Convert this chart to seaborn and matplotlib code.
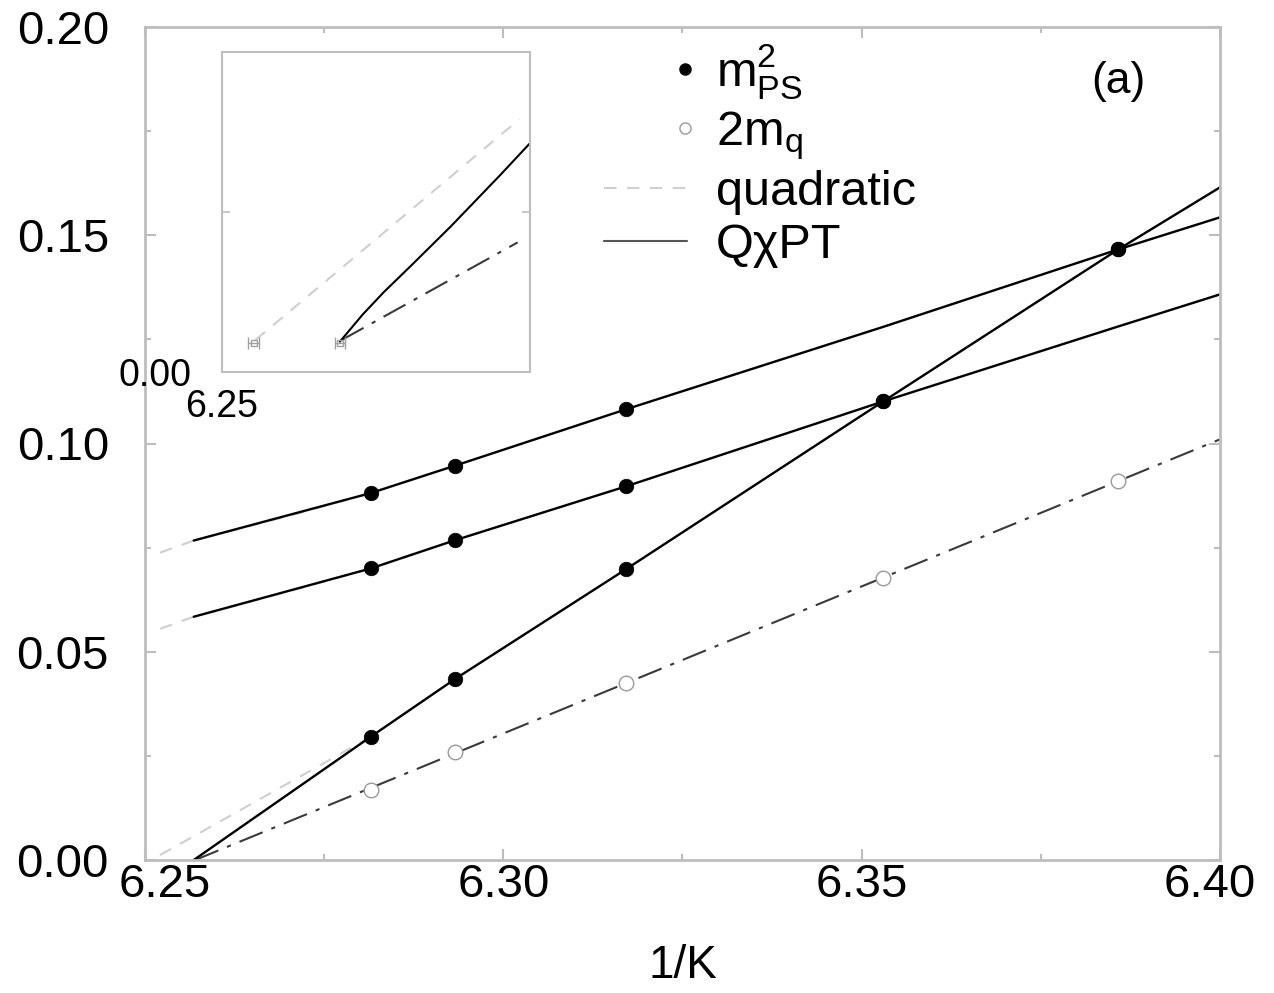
import numpy as np
import pandas as pd
import matplotlib
matplotlib.use("Agg")
import matplotlib.pyplot as plt
import matplotlib.transforms as mtransforms
import seaborn as sns
from matplotlib.legend_handler import HandlerLine2D
from matplotlib.lines import Line2D
from matplotlib.ticker import MultipleLocator

# ---------------- data ----------------
inv_k = [6.2815, 6.2933, 6.3171, 6.3530, 6.3858]

m2_deg = [0.0296, 0.0435, 0.0698, 0.1101, 0.1466]          # degenerate
m2_k5_x = [6.2815, 6.2933, 6.3171, 6.3858]
m2_k5 = [0.0881, 0.0947, 0.1082, 0.1466]                     # one quark at kappa5
m2_k4_x = [6.2815, 6.2933, 6.3171, 6.3530]
m2_k4 = [0.0700, 0.0768, 0.0897, 0.1101]                     # one quark at kappa4
two_mq = [0.0168, 0.0260, 0.0425, 0.0678, 0.0909]

# fit curves (QchiPT, solid)
fit_x = [6.2568, 6.2815, 6.2933, 6.3171, 6.3530, 6.3858, 6.4000]
fit_deg = [0.0000, 0.0296, 0.0435, 0.0698, 0.1101, 0.1466, 0.1615]
fit_k5 = [0.0767, 0.0881, 0.0947, 0.1082, 0.1280, 0.1466, 0.1543]
fit_k4 = [0.0584, 0.0700, 0.0768, 0.0897, 0.1101, 0.1281, 0.1358]

# quadratic fits (dashed light grey)
quad_x = [6.2521, 6.2568, 6.2716, 6.2815, 6.2933, 6.3171, 6.3530, 6.3858, 6.4000]
quad_deg = [0.0012, 0.0057, 0.0200, 0.0296, 0.0435, 0.0698, 0.1101, 0.1466, 0.1615]
quad_k5 = [0.0738, 0.0767, 0.0833, 0.0881, 0.0947, 0.1082, 0.1280, 0.1466, 0.1543]
quad_k4 = [0.0555, 0.0584, 0.0652, 0.0700, 0.0768, 0.0897, 0.1101, 0.1281, 0.1358]

# 2 m_q linear fit (dash-dot)
mq_fit_x = [6.2570, 6.4000]
mq_fit = [0.0000, 0.1010]

# inset
ins_quad_x = [6.2519, 6.2669]
ins_quad_y = [0.0020, 0.0158]
ins_q_x = [6.2567, 6.2580, 6.2592, 6.2607, 6.2630, 6.2658, 6.2675]
ins_q_y = [0.0019, 0.0036, 0.0050, 0.0066, 0.0091, 0.0123, 0.0143]
ins_mq_x = [6.2568, 6.2668]
ins_mq_y = [0.0020, 0.0081]
ins_kc_x = [6.2518, 6.2567]
ins_kc_y = [0.0018, 0.0018]
ins_kc_err = [0.0003, 0.0003]

legend_labels = [r"m$^{2}_{\mathregular{PS}}$", r"2m$_{\mathregular{q}}$", "quadratic", "QχPT"]

# ---------------- style ----------------
sns.set_style("ticks")
plt.rcParams["font.family"] = ["Liberation Sans", "DejaVu Sans"]
plt.rcParams["mathtext.fontset"] = "custom"
plt.rcParams["mathtext.rm"] = "Liberation Sans"
plt.rcParams["mathtext.it"] = "Liberation Sans"
plt.rcParams["text.color"] = "black"
plt.rcParams["axes.labelcolor"] = "black"
plt.rcParams["xtick.labelcolor"] = "black"
plt.rcParams["ytick.labelcolor"] = "black"

GRID = "#bdbdbd"
LIGHT = "#cfcfcf"
DARK = "#3a3a3a"

fig = plt.figure(figsize=(12.74, 9.93), dpi=100)
ax = fig.add_axes([145 / 1274, 133 / 993, 1075 / 1274, 833 / 993])

def line(axx, x, y, **kw):
    df = pd.DataFrame({"x": x, "y": y})
    sns.lineplot(data=df, x="x", y="y", ax=axx, sort=False, estimator=None, **kw)

# quadratic (under)
for qy in (quad_deg, quad_k5, quad_k4):
    line(ax, quad_x, qy, color=LIGHT, lw=1.5, dashes=(6, 5))
# dash-dot
line(ax, mq_fit_x, mq_fit, color=DARK, lw=1.5)
ax.lines[-1].set_dashes((12, 4.5, 2, 4.5))
# QchiPT solid
for fy in (fit_deg, fit_k5, fit_k4):
    line(ax, fit_x, fy, color="black", lw=1.7)

# points
pts = pd.DataFrame({"x": inv_k + m2_k5_x + m2_k4_x,
                    "y": m2_deg + m2_k5 + m2_k4})
sns.scatterplot(data=pts, x="x", y="y", ax=ax, color="black", s=110,
                edgecolor="black", linewidth=0.5, zorder=5)
mq = pd.DataFrame({"x": inv_k, "y": two_mq})
sns.scatterplot(data=mq, x="x", y="y", ax=ax, facecolor="white", s=110,
                edgecolor="#9a9a9a", linewidth=1.0, zorder=5)

ax.set_xlim(6.25, 6.40)
ax.set_ylim(0.0, 0.20)
ax.set_xticks([6.25, 6.30, 6.35, 6.40])
ax.set_yticks([0.00, 0.05, 0.10, 0.15, 0.20])
ax.xaxis.set_minor_locator(MultipleLocator(0.025))
ax.yaxis.set_minor_locator(MultipleLocator(0.025))
ax.set_xticklabels(["6.25", "6.30", "6.35", "6.40"])
ax.set_yticklabels(["0.00", "0.05", "0.10", "0.15", "0.20"])
ax.tick_params(which="both", direction="in", top=True, right=True, color=GRID,
               labelsize=34, width=1.5, labelcolor="black")
ax.tick_params(which="major", length=8)
ax.tick_params(which="minor", length=4)
ax.tick_params(axis="x", pad=2)
ax.tick_params(axis="y", pad=26)
for s in ax.spines.values():
    s.set_color(GRID)
    s.set_linewidth(2)
ax.set_xlabel("1/K", fontsize=33, labelpad=27, color="black")
ax.set_ylabel("")

# nudge the end x tick labels like the reference
xl = ax.get_xticklabels()
xl[0].set_transform(xl[0].get_transform() + mtransforms.ScaledTranslation(0.20, 0, fig.dpi_scale_trans))
xl[-1].set_transform(xl[-1].get_transform() + mtransforms.ScaledTranslation(-0.10, 0, fig.dpi_scale_trans))

ax.text(0.905, 0.935, "(a)", transform=ax.transAxes, fontsize=32,
        ha="center", va="center", color="black")

# legend with marker at right end of handle
class RightMarker(HandlerLine2D):
    def create_artists(self, legend, orig_handle, xdescent, ydescent, width,
                       height, fontsize, trans):
        arts = super().create_artists(legend, orig_handle, xdescent, ydescent,
                                      width, height, fontsize, trans)
        for a in arts:
            x = np.asarray(a.get_xdata(), dtype=float)
            y = np.asarray(a.get_ydata(), dtype=float)
            if len(x) == 3:
                a.set_xdata([x[0], x[0] + (x[-1] - x[0]) * 0.97, x[-1]])
                a.set_ydata([y[0], y[0], y[0]])
        return arts

h1 = Line2D([], [], ls="none", marker="o", color="black", markersize=8)
h2 = Line2D([], [], ls="none", marker="o", markerfacecolor="white",
            markeredgecolor="#9a9a9a", markersize=8)
h3 = Line2D([], [], color=LIGHT, lw=1.5, dashes=(6, 5))
h4 = Line2D([], [], color="#555555", lw=1.5)
leg = ax.legend([h1, h2, h3, h4], legend_labels, loc="upper left",
                bbox_to_anchor=(560 / 1274, 995 / 993), bbox_transform=fig.transFigure,
                frameon=False, fontsize=35, handlelength=1.72, handletextpad=0.58,
                labelspacing=0.17, numpoints=1, handler_map={Line2D: RightMarker()})
for t in leg.get_texts():
    t.set_color("black")

# ---------------- inset ----------------
axi = fig.add_axes([222 / 1274, (993 - 372) / 993, 308 / 1274, 320 / 993])
axi.set_facecolor("white")
line(axi, ins_quad_x, ins_quad_y, color=LIGHT, lw=1.5, dashes=(6, 5))
line(axi, ins_mq_x, ins_mq_y, color=DARK, lw=1.5)
axi.lines[-1].set_dashes((12, 4.5, 2, 4.5))
line(axi, ins_q_x, ins_q_y, color="black", lw=1.5)
axi.errorbar(ins_kc_x, ins_kc_y, xerr=ins_kc_err, fmt="s", ms=4,
             color="#a0a0a0", mfc="none", mec="#a0a0a0", capsize=4, lw=1, zorder=4)
axi.set_xlim(6.25, 6.2675)
axi.set_ylim(0.0, 0.02)
axi.set_xticks([6.25])
axi.set_yticks([0.0, 0.01])
axi.set_xticklabels(["6.25"])
axi.set_yticklabels(["0.00", ""])
axi.tick_params(which="both", direction="in", top=True, right=True, color=GRID,
                labelsize=27, length=6, width=1.2, labelcolor="black")
axi.tick_params(axis="x", pad=12)
axi.tick_params(axis="y", pad=22)
axi.set_xlabel("")
axi.set_ylabel("")
for s in axi.spines.values():
    s.set_color(GRID)
    s.set_linewidth(1.5)

fig.savefig("out.png", dpi=100)
